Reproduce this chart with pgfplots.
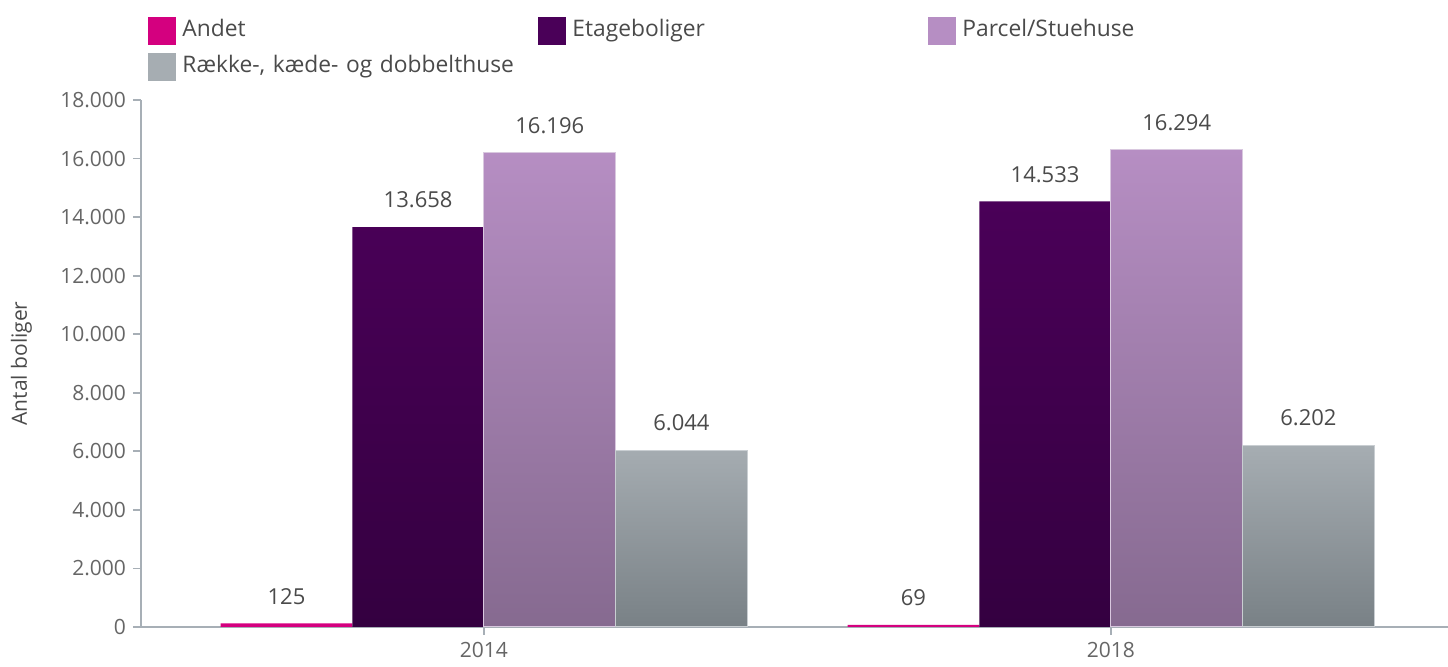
\documentclass[border=0pt]{standalone}
\usepackage{pgfplots}
\pgfplotsset{compat=1.18}
\usepackage{fontspec}
\setmainfont{Open Sans}
\definecolor{andet}{HTML}{D4007F}
\definecolor{etageT}{HTML}{4A0058}
\definecolor{etageB}{HTML}{340040}
\definecolor{parcT}{HTML}{B68EC3}
\definecolor{parcB}{HTML}{866A90}
\definecolor{parcE}{HTML}{D9C8DF}
\definecolor{raekT}{HTML}{A6ADB2}
\definecolor{raekB}{HTML}{798186}
\definecolor{raekE}{HTML}{C9CED2}
\definecolor{axisgray}{HTML}{A7AFB6}
\definecolor{tickgray}{HTML}{666666}
\definecolor{labelgray}{HTML}{4A4A4A}
\begin{document}
\begin{tikzpicture}
\begin{axis}[
  scale only axis, width=653.3pt, height=263.5pt,
  xmin=-0.547, xmax=1.537, ymin=0, ymax=18000,
  ybar, bar width=0.21,
  xtick={0,1}, xticklabels={2014,2018},
  ytick={0,2000,...,18000},
  scaled y ticks=false,
  axis x line*=bottom, axis y line*=left,
  axis line style={draw=axisgray, line width=0.9pt, -},
  tick style={draw=axisgray, line width=0.9pt},
  tick align=outside, major tick length=4pt,
  /pgf/number format/1000 sep={.},
  /pgf/number format/assume math mode=true,
  yticklabel style={font=\fontsize{10.5}{12}\selectfont, text=tickgray},
  xticklabel style={font=\fontsize{10.5}{12}\selectfont, text=tickgray},
  ylabel={Antal boliger},
  every axis y label/.style={at={(axis description cs:-0.0916,0.5)}, rotate=90, anchor=center, font=\fontsize{10.5}{12}\selectfont, text=labelgray},
  nodes near coords,
  nodes near coords style={font=\fontsize{11}{13}\selectfont, text=labelgray, yshift=6pt},
  legend image code/.code={\fill[#1, draw=none] (0pt,-7pt) rectangle (14pt,7pt);},
  legend columns=3,
  legend cell align=left,
  legend style={draw=none, fill=none, at={(axis description cs:0.0054,1.163)}, anchor=north west,
    font=\fontsize{11.4}{13}\selectfont, text=labelgray, inner sep=0pt,
    nodes={text width=175pt, inner xsep=3pt, inner ysep=3pt, text height=8pt, text depth=2.5pt},
    row sep=1.5pt, column sep=0pt},
]
\addlegendimage{fill=andet}\addlegendentry{Andet}
\addlegendimage{fill=etageT}\addlegendentry{Etageboliger}
\addlegendimage{fill=parcT}\addlegendentry{Parcel/Stuehuse}
\addlegendimage{fill=raekT}\addlegendentry{Række-, kæde- og dobbelthuse}

\addplot[forget plot, bar shift=-0.315, draw=none, fill=andet] coordinates {(0,125) (1,69)};
\addplot[forget plot, bar shift=-0.105, draw=none, top color=etageT, bottom color=etageB] coordinates {(0,13658) (1,14533)};
\addplot[forget plot, bar shift=0.105, draw=parcE, line width=0.5pt, top color=parcT, bottom color=parcB] coordinates {(0,16196) (1,16294)};
\addplot[forget plot, bar shift=0.315, draw=raekE, line width=0.5pt, top color=raekT, bottom color=raekB] coordinates {(0,6044) (1,6202)};
\coordinate (O) at (rel axis cs:0,0);
\end{axis}
\pgfresetboundingbox
\path[use as bounding box] ([shift={(-70.5pt,-20pt)}]O) rectangle ([shift={(653.5pt,313.5pt)}]O);
\end{tikzpicture}
\end{document}
